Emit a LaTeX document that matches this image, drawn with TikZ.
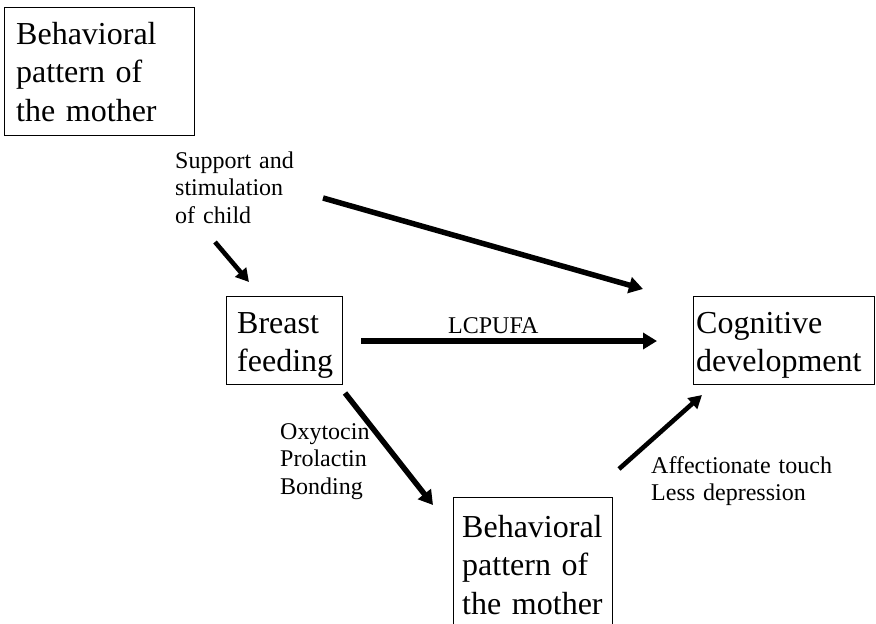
\documentclass[tikz,border=0pt]{standalone}
\usepackage{fontspec}
\setmainfont{Liberation Serif}
\usetikzlibrary{arrows.meta}
\begin{document}
\begin{tikzpicture}[x=1pt,y=-1pt,
  frame/.style={draw, line width=0.9pt, inner sep=0pt, anchor=north west},
  big/.style={font=\fontsize{32}{38.5}\selectfont, text width=240pt, align=left, inner sep=0pt, anchor=base west},
  small/.style={font=\fontsize{24}{27.5}\selectfont, text width=240pt, align=left, inner sep=0pt, anchor=base west},
  link/.style={line width=5.5pt, -{Triangle[length=14pt,width=16pt]}},
  thinlink/.style={line width=4.6pt, -{Triangle[length=13pt,width=14pt]}},
]
\useasboundingbox (0,0) rectangle (876,624);
\clip (0,0) rectangle (876,624);

% frames
\node[frame, minimum width=190pt, minimum height=128pt] (motherTop) at (4,7) {};
\node[frame, minimum width=116pt, minimum height=88pt] (breast) at (226,296) {};
\node[frame, minimum width=181pt, minimum height=88pt] (cognitive) at (693,296) {};
\node[frame, minimum width=159pt, minimum height=150pt] (motherBottom) at (453,497) {};

% box texts
\node[big] (motherTopText) at (16,44) {Behavioral\\pattern of\\the mother};
\node[big] (breastText) at (237,333) {Breast\\feeding};
\node[big] (cognitiveText) at (696,333) {Cognitive\\development};
\node[big] (motherBottomText) at (462,537) {Behavioral\\pattern of\\the mother};

% labels
\node[small] (supportLabel) at (175,168) {Support and\\stimulation\\of child};
\node[small] (lcpufaLabel) at (448,333) {LCPUFA};
\node[small] (hormoneLabel) at (280,439) {Oxytocin\\Prolactin\\Bonding};
\node[small] (touchLabel) at (651,473) {Affectionate touch\\Less depression};

% arrow ends
\coordinate (supA) at (323,198);
\coordinate (supB) at (643,289);
\coordinate (stimA) at (215,242);
\coordinate (stimB) at (249,282);
\coordinate (lcA) at (361,341);
\coordinate (lcB) at (657,341);
\coordinate (oxA) at (345,393);
\coordinate (oxB) at (433,505);
\coordinate (touchA) at (619,469);
\coordinate (touchB) at (702,395);

% connectors
\draw[link] (supA) -- (supB);
\draw[thinlink] (stimA) -- (stimB);
\draw[link] (lcA) -- (lcB);
\draw[link] (oxA) -- (oxB);
\draw[thinlink] (touchA) -- (touchB);
\end{tikzpicture}
\end{document}
